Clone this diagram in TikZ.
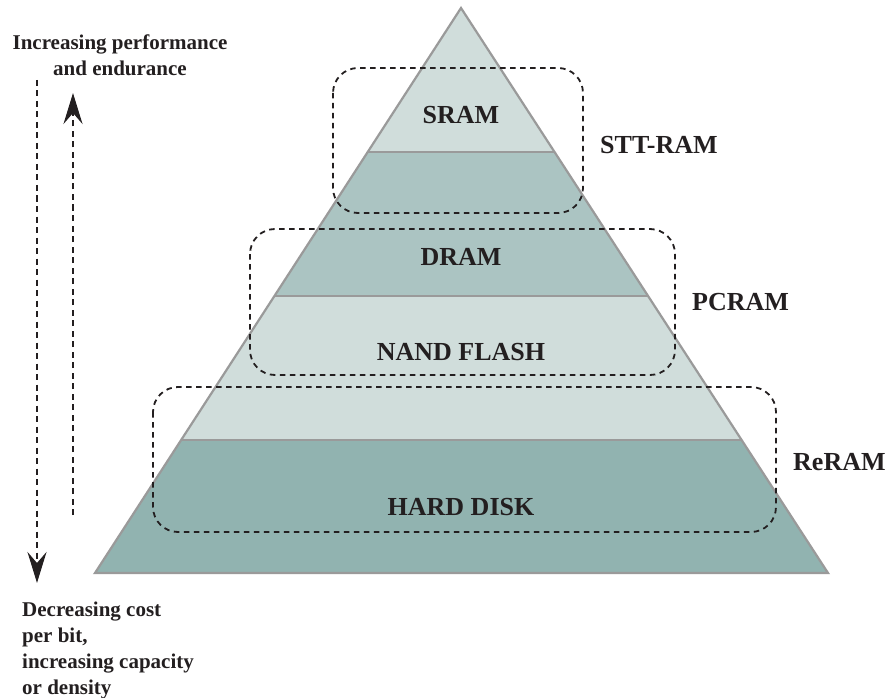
\documentclass[tikz,border=0pt]{standalone}
\usepackage{fontspec}
\setmainfont{Liberation Serif}
\usetikzlibrary{arrows.meta,calc,positioning}
\definecolor{bandlight}{RGB}{208,221,219}
\definecolor{bandmid}{RGB}{171,196,194}
\definecolor{banddark}{RGB}{145,179,176}
\definecolor{edgecol}{RGB}{154,154,154}
\definecolor{inkcol}{RGB}{35,31,32}
\tikzset{
  edge/.style    = {draw=edgecol, line width=2.2pt, line join=miter},
  group/.style   = {draw=inkcol, line width=1.8pt, rounded corners=25pt,
                    dash pattern=on 5.5pt off 4.5pt},
  tier/.style    = {font=\bfseries\fontsize{26}{30}\selectfont, text=inkcol,
                    inner sep=0pt},
  tech/.style    = {font=\bfseries\fontsize{26}{30}\selectfont, text=inkcol,
                    inner sep=0pt, anchor=west},
  side/.style    = {font=\bfseries\fontsize{21}{25.8}\selectfont, text=inkcol,
                    inner sep=0pt},
  trend/.style   = {draw=inkcol, line width=2.7pt, dash pattern=on 6pt off 4.5pt,
                    -{Stealth[length=31pt, width=19pt, inset=11pt]}},
}

\begin{document}
\begin{tikzpicture}[x=1pt, y=-1pt]
  \useasboundingbox (0,0) rectangle (892,698);

  % pyramid
  \coordinate (apex) at (461,8);
  \coordinate (bl) at (95,573);
  \coordinate (br) at (828,573);
  \foreach \t/\n in {0.2549/a, 0.5097/b, 0.7646/c}{
    \coordinate (l\n) at ($(apex)!\t!(bl)$);
    \coordinate (r\n) at ($(apex)!\t!(br)$);
  }
  \fill[bandlight] (apex) -- (ra) -- (la) -- cycle;
  \fill[bandmid]   (la) -- (ra) -- (rb) -- (lb) -- cycle;
  \fill[bandlight] (lb) -- (rb) -- (rc) -- (lc) -- cycle;
  \fill[banddark]  (lc) -- (rc) -- (br) -- (bl) -- cycle;
  \draw[edge] (la) -- (ra);
  \draw[edge] (lb) -- (rb);
  \draw[edge] (lc) -- (rc);
  \draw[edge] (apex) -- (br) -- (bl) -- cycle;

  \node[tier] (sram) at (461,115) {SRAM};
  \node[tier] (dram) at (461,257) {DRAM};
  \node[tier] (nand) at (461,352) {NAND FLASH};
  \node[tier] (disk) at (461,507) {HARD DISK};

  % technology groups
  \draw[group] (333,68) rectangle (583,213);
  \draw[group] (250,229) rectangle (675,375);
  \draw[group] (153,387) rectangle (776,532);

  \node[tech] (stt)   at (600,145) {STT-RAM};
  \node[tech] (pcram) at (692,302) {PCRAM};
  \node[tech] (reram) at (793,462) {ReRAM};

  % trends
  \node[side, align=center, anchor=north] (perf) at (120,35)
       {Increasing performance\\ and endurance};
  \node[side, align=left, anchor=north west] (cost) at (22,602)
       {Decreasing cost\\ per bit,\\ increasing capacity\\ or density};

  \coordinate (costtop) at (37,80);
  \coordinate (costtip) at (37,583);
  \coordinate (perfbot) at (73,515);
  \coordinate (perftip) at (73,93);
  \draw[trend] (costtop) -- (costtip);
  \draw[trend] (perfbot) -- (perftip);
\end{tikzpicture}
\end{document}
